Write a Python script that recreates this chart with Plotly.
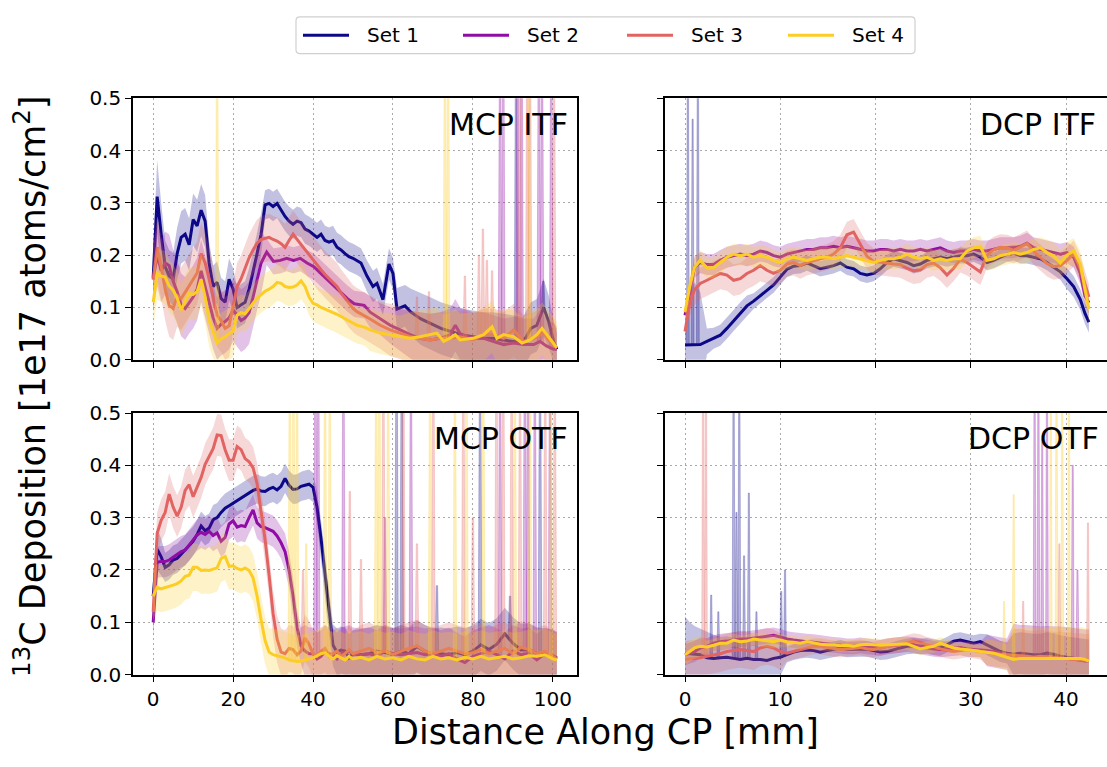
import numpy as np
import plotly.graph_objects as go

W, H = 1107, 767

SET_NAMES = ["Set 1", "Set 2", "Set 3", "Set 4"]
SET_COLORS = ["#0d0887", "#8f0da4", "#e16462", "#fcce25"]

# ---------------- MCP ITF ----------------
mcp_itf_x1 = list(range(0, 53)) + [53.5, 55, 56, 57.5, 59, 60, 61, 63, 64.5, 67, 69.5, 72, 74.5, 77, 80,
                                   82.5, 85, 87.5, 90, 92.5, 94.5, 96, 97.7, 99, 100.2, 101]
mcp_itf_y1 = [0.157, 0.312, 0.24, 0.178, 0.16, 0.154, 0.203, 0.234, 0.24, 0.22,
              0.268, 0.256, 0.286, 0.265, 0.185, 0.14, 0.148, 0.117, 0.11, 0.154,
              0.135, 0.10, 0.105, 0.11, 0.135, 0.166, 0.203, 0.24, 0.296, 0.299,
              0.293, 0.299, 0.286, 0.274, 0.265, 0.259, 0.265, 0.262, 0.25, 0.246,
              0.24, 0.234, 0.24, 0.228, 0.225, 0.228, 0.215, 0.21, 0.203, 0.197,
              0.194, 0.19, 0.185,
              0.16, 0.14, 0.146, 0.115, 0.183, 0.165, 0.097, 0.103, 0.091, 0.078, 0.069, 0.06, 0.054,
              0.048, 0.044, 0.041, 0.041, 0.038, 0.035, 0.032, 0.06, 0.066, 0.1, 0.072, 0.035, 0.02]
mcp_itf_e1 = ([0.05, 0.07, 0.06, 0.05, 0.05, 0.05, 0.05, 0.05, 0.05, 0.05, 0.05, 0.05, 0.05, 0.05]
              + [0.04] * 14 + [0.028] * 25
              + [0.03, 0.03, 0.03, 0.03, 0.03, 0.03, 0.04, 0.04, 0.045, 0.05, 0.05, 0.05, 0.05, 0.05,
                 0.05, 0.05, 0.05, 0.05, 0.05, 0.05, 0.05, 0.05, 0.055, 0.05, 0.04, 0.03])

mcp_itf_x2 = list(range(0, 28)) + [28.4, 30.1, 31.8, 33.4, 35.1, 36.8, 38.5, 40.2, 41.8, 43.5, 45.2, 46.9,
                                   48.6, 50.3, 52.8, 54.3, 56.8, 59.3, 61.8, 64.3, 66.8, 69.3, 71.8, 74.3,
                                   75.6, 76.8, 80, 82.7, 85.2, 87.7, 90.2, 92.7, 95.2, 96.8, 98.5, 100.2, 101]
mcp_itf_y2 = [0.155, 0.2, 0.17, 0.185, 0.18, 0.15, 0.13, 0.105, 0.098, 0.11,
              0.12, 0.135, 0.17, 0.14, 0.11, 0.08, 0.06, 0.068, 0.073, 0.08,
              0.095, 0.085, 0.075, 0.08, 0.09, 0.12, 0.155, 0.185,
              0.206, 0.188, 0.19, 0.194, 0.19, 0.194, 0.185, 0.178, 0.166, 0.154, 0.141, 0.129,
              0.117, 0.107, 0.104, 0.091, 0.078, 0.066, 0.057, 0.048, 0.041, 0.038, 0.041, 0.048,
              0.066, 0.05, 0.041, 0.041, 0.035, 0.029, 0.032, 0.029, 0.029, 0.035, 0.026, 0.02, 0.02]
mcp_itf_e2 = ([0.06] * 28 + [0.025] * 15
              + [0.03, 0.03, 0.035, 0.04, 0.045, 0.05, 0.05, 0.05, 0.05, 0.05, 0.05, 0.05, 0.05, 0.05,
                 0.05, 0.05, 0.05, 0.05, 0.06, 0.05, 0.05, 0.04])

mcp_itf_x3 = list(range(0, 54)) + [54.3, 56.8, 59.3, 61.8, 64.3, 66.8, 69.3, 71.8, 74.3, 76.8, 80, 82.7,
                                   85.2, 87.7, 90.2, 92.7, 95.2, 97.7, 99.3, 101]
mcp_itf_y3 = [0.153, 0.215, 0.178, 0.135, 0.104, 0.098, 0.123, 0.117, 0.129, 0.141,
              0.154, 0.166, 0.203, 0.185, 0.154, 0.117, 0.085, 0.075, 0.06, 0.065,
              0.1, 0.14, 0.155, 0.175, 0.195, 0.21, 0.223, 0.23, 0.232, 0.234,
              0.23, 0.227, 0.222, 0.215, 0.228, 0.24, 0.23, 0.22, 0.21, 0.2,
              0.191, 0.18, 0.172, 0.163, 0.155, 0.148, 0.14, 0.128, 0.118, 0.106,
              0.098, 0.092, 0.088, 0.083,
              0.078, 0.066, 0.057, 0.051, 0.044, 0.041, 0.038, 0.041, 0.041, 0.044, 0.038, 0.048,
              0.048, 0.041, 0.057, 0.035, 0.041, 0.051, 0.035, 0.023]
mcp_itf_e3 = ([0.06] * 20 + [0.045] * 34
              + [0.045, 0.045, 0.05, 0.05, 0.05, 0.05, 0.05, 0.05, 0.05, 0.05, 0.05, 0.05, 0.05, 0.05,
                 0.05, 0.05, 0.05, 0.05, 0.05, 0.04])

mcp_itf_x4 = list(range(0, 54)) + [54.3, 56.8, 59.3, 61.8, 64.3, 66.8, 69.3, 71, 72.7, 74.3, 75.6, 76.8, 80,
                                   82.7, 84.8, 86, 87.7, 90.2, 92.3, 94.3, 96, 97.3, 98.5, 99.8, 101]
mcp_itf_y4 = [0.11, 0.165, 0.16, 0.158, 0.141, 0.133, 0.118, 0.095, 0.112, 0.127,
              0.125, 0.13, 0.154, 0.12, 0.075, 0.052, 0.032, 0.04, 0.044, 0.05,
              0.055, 0.085, 0.09, 0.088, 0.097, 0.108, 0.118, 0.125, 0.131, 0.135,
              0.14, 0.148, 0.146, 0.14, 0.138, 0.139, 0.143, 0.151, 0.14, 0.12,
              0.108, 0.105, 0.1, 0.097, 0.093, 0.09, 0.087, 0.083, 0.078, 0.074,
              0.07, 0.066, 0.064, 0.062,
              0.057, 0.051, 0.048, 0.044, 0.041, 0.044, 0.048, 0.051, 0.035, 0.041, 0.048, 0.038,
              0.041, 0.048, 0.063, 0.041, 0.048, 0.044, 0.032, 0.038, 0.048, 0.06, 0.048, 0.035, 0.023]
mcp_itf_e4 = [0.05] * 21 + [0.035] * 33 + [0.04] * 4 + [0.05] * 21

# narrow outliers in the uncertainty envelope: position, peak value
mcp_itf_spk_x1 = [90.8, 97.6]
mcp_itf_spk_h1 = [0.6, 0.15]
mcp_itf_spk_x2 = [86.8, 87.6, 91.2, 92.2, 96.5, 97.3, 99.6]
mcp_itf_spk_h2 = [0.6, 0.6, 0.6, 0.6, 0.6, 0.6, 0.6]
mcp_itf_spk_x3 = [66.0, 69.0, 78.0, 81.5, 82.5, 83.5, 84.8, 91.8, 93.6, 94.3, 100.3]
mcp_itf_spk_h3 = [0.12, 0.13, 0.16, 0.2, 0.25, 0.19, 0.17, 0.6, 0.6, 0.6, 0.6]
mcp_itf_spk_x4 = [16.0, 73.0, 73.8, 94.0]
mcp_itf_spk_h4 = [0.6, 0.6, 0.6, 0.6]

# ---------------- MCP OTF ----------------
mcp_otf_x = list(range(0, 51)) + list(range(52, 101, 2)) + [101]
mcp_otf_y1 = [0.15, 0.24, 0.225, 0.205, 0.21, 0.219, 0.222, 0.23, 0.238, 0.245,
              0.255, 0.268, 0.284, 0.275, 0.28, 0.296, 0.3, 0.31, 0.318, 0.323,
              0.328, 0.332, 0.337, 0.342, 0.348, 0.352, 0.355, 0.351, 0.35, 0.355,
              0.358, 0.353, 0.36, 0.375, 0.362, 0.354, 0.355, 0.36, 0.362, 0.364,
              0.358, 0.32, 0.26, 0.19, 0.115, 0.056, 0.043, 0.047, 0.045, 0.032,
              0.04,
              0.038, 0.04, 0.045, 0.042, 0.038, 0.045, 0.04, 0.054, 0.045, 0.038, 0.04, 0.038, 0.042,
              0.038, 0.045, 0.057, 0.048, 0.058, 0.078, 0.06, 0.047, 0.048, 0.04, 0.038, 0.036, 0.032]
mcp_otf_e1 = [0.04, 0.04, 0.035] + [0.028] * 38 + [0.03, 0.035, 0.04, 0.04, 0.04] + [0.045] * 5 + [0.05] * 26

mcp_otf_y2 = [0.1, 0.215, 0.216, 0.216, 0.219, 0.224, 0.229, 0.235, 0.238, 0.248,
              0.258, 0.267, 0.272, 0.268, 0.274, 0.266, 0.271, 0.255, 0.262, 0.288,
              0.294, 0.282, 0.285, 0.283, 0.3, 0.315, 0.29, 0.283, 0.281, 0.278,
              0.274, 0.265, 0.252, 0.235, 0.2, 0.15, 0.09, 0.055, 0.045, 0.04,
              0.04, 0.03, 0.035, 0.045, 0.04, 0.038, 0.03, 0.04, 0.042, 0.045,
              0.04,
              0.038, 0.04, 0.035, 0.045, 0.04, 0.038, 0.04, 0.042, 0.038, 0.04, 0.035, 0.04, 0.03,
              0.023, 0.035, 0.04, 0.045, 0.038, 0.03, 0.045, 0.038, 0.04, 0.028, 0.04, 0.035, 0.03]
mcp_otf_e2 = [0.03] * 33 + [0.035] * 5 + [0.05] * 39

mcp_otf_y3 = [0.12, 0.27, 0.295, 0.31, 0.345, 0.32, 0.303, 0.32, 0.352, 0.363,
              0.34, 0.36, 0.377, 0.402, 0.418, 0.432, 0.458, 0.457, 0.43, 0.41,
              0.41, 0.436, 0.43, 0.413, 0.407, 0.395, 0.365, 0.315, 0.258, 0.19,
              0.117, 0.068, 0.043, 0.04, 0.05, 0.048, 0.038, 0.045, 0.07, 0.058,
              0.04, 0.035, 0.045, 0.05, 0.035, 0.04, 0.045, 0.035, 0.04, 0.048,
              0.04,
              0.045, 0.05, 0.042, 0.045, 0.038, 0.045, 0.05, 0.055, 0.045, 0.04, 0.045, 0.05, 0.045,
              0.04, 0.042, 0.048, 0.04, 0.045, 0.05, 0.04, 0.052, 0.048, 0.04, 0.045, 0.035, 0.03]
mcp_otf_e3 = [0.04] * 30 + [0.045] * 21 + [0.05] * 26

mcp_otf_y4 = [0.15, 0.167, 0.164, 0.166, 0.168, 0.171, 0.174, 0.179, 0.188, 0.19,
              0.205, 0.205, 0.199, 0.2, 0.199, 0.201, 0.204, 0.222, 0.226, 0.207,
              0.208, 0.203, 0.2, 0.204, 0.199, 0.185, 0.15, 0.105, 0.065, 0.043,
              0.038, 0.036, 0.034, 0.032, 0.028, 0.026, 0.025, 0.026, 0.028, 0.03,
              0.032, 0.036, 0.04, 0.042, 0.035, 0.03, 0.036, 0.032, 0.028, 0.035,
              0.03,
              0.033, 0.028, 0.035, 0.03, 0.032, 0.028, 0.035, 0.03, 0.028, 0.035, 0.03, 0.032, 0.028,
              0.033, 0.03, 0.035, 0.03, 0.033, 0.035, 0.03, 0.032, 0.036, 0.035, 0.038, 0.03, 0.028]
mcp_otf_e4 = [0.045] * 30 + [0.05] * 47

mcp_otf_spk_x1 = [60.9, 62.2, 71.0, 81.8, 89.3, 96.8]
mcp_otf_spk_h1 = [0.6, 0.6, 0.17, 0.6, 0.15, 0.6]
mcp_otf_spk_x2 = [40.6, 41.3, 47.6, 58.0, 64.5, 86.8, 93.0, 93.8, 95.5, 99.3]
mcp_otf_spk_h2 = [0.6, 0.6, 0.6, 0.3, 0.6, 0.6, 0.6, 0.6, 0.6, 0.6]
mcp_otf_spk_x3 = [37.5, 49.2, 52.0, 57.6, 62.6, 66.0, 70.1, 77.6, 80.0, 85.9, 87.6, 89.7, 91.8, 98.1, 100.5]
mcp_otf_spk_h3 = [0.2, 0.35, 0.22, 0.6, 0.6, 0.25, 0.6, 0.6, 0.3, 0.6, 0.6, 0.6, 0.6, 0.6, 0.6]
mcp_otf_spk_x4 = [34.2, 35.1, 36.0, 38.3, 43.0, 44.2, 55.8, 56.6, 58.8, 69.3, 75.5, 78.4, 82.6, 90.5, 94.3, 99.5]
mcp_otf_spk_h4 = [0.6, 0.6, 0.6, 0.25, 0.6, 0.6, 0.6, 0.6, 0.6, 0.6, 0.6, 0.6, 0.6, 0.6, 0.6, 0.6]

# ---------------- DCP (shared sampling) ----------------
dcp_x = [0, 0.5, 1.0, 1.6, 2.3, 3.0, 3.7, 4.4, 5.1, 5.8, 6.5, 7.2, 7.9, 8.6, 9.3, 10.0, 10.7, 11.4, 12.1,
         12.8, 13.5, 14.2, 14.9, 15.6, 16.3, 17.0, 17.7, 18.4, 19.1, 19.8, 20.5, 21.2, 21.9, 22.6, 23.3,
         24.0, 24.7, 25.4, 26.1, 26.8, 27.5, 28.2, 28.9, 29.6, 30.3, 31.0, 31.7, 32.4, 33.1, 33.8, 34.5,
         35.2, 35.9, 36.6, 37.3, 38.0, 38.7, 39.4, 40.1, 40.8, 41.5, 42.0, 42.4]

dcp_itf_y1 = [0.028, 0.028, 0.028, 0.029, 0.035, 0.041, 0.047, 0.06, 0.075, 0.09,
              0.103, 0.112, 0.122, 0.133, 0.143, 0.158, 0.173, 0.179, 0.18, 0.185,
              0.18, 0.174, 0.177, 0.18, 0.185, 0.177, 0.174, 0.165, 0.162, 0.165,
              0.174, 0.186, 0.193, 0.19, 0.186, 0.18, 0.183, 0.19, 0.193, 0.196,
              0.193, 0.196, 0.199, 0.199, 0.202, 0.196, 0.186, 0.19, 0.196, 0.202,
              0.205, 0.199, 0.199, 0.196, 0.193, 0.186, 0.177, 0.168, 0.155, 0.14,
              0.115, 0.088, 0.072]
dcp_itf_e1 = [0.03, 0.1, 0.12, 0.1, 0.025] + [0.02] * 6 + [0.015] * 47 + [0.02] * 5

dcp_itf_y2 = [0.085, 0.134, 0.177, 0.186, 0.182, 0.182, 0.19, 0.196, 0.199, 0.202,
              0.199, 0.202, 0.208, 0.205, 0.199, 0.196, 0.202, 0.205, 0.208, 0.211,
              0.211, 0.214, 0.214, 0.217, 0.214, 0.217, 0.214, 0.211, 0.208, 0.208,
              0.211, 0.211, 0.208, 0.211, 0.208, 0.208, 0.211, 0.208, 0.211, 0.214,
              0.208, 0.205, 0.208, 0.208, 0.211, 0.208, 0.208, 0.211, 0.214, 0.214,
              0.214, 0.217, 0.223, 0.214, 0.211, 0.208, 0.205, 0.202, 0.205, 0.196,
              0.165, 0.122, 0.109]
dcp_itf_e2 = [0.02] * 63

dcp_itf_y3 = [0.054, 0.109, 0.134, 0.146, 0.152, 0.158, 0.165, 0.162, 0.152, 0.155,
              0.165, 0.171, 0.18, 0.171, 0.165, 0.171, 0.183, 0.186, 0.18, 0.186,
              0.19, 0.193, 0.196, 0.202, 0.214, 0.239, 0.244, 0.22, 0.198, 0.188,
              0.186, 0.185, 0.183, 0.182, 0.175, 0.17, 0.172, 0.182, 0.185, 0.176,
              0.162, 0.175, 0.192, 0.186, 0.177, 0.168, 0.2, 0.21, 0.215, 0.214,
              0.209, 0.215, 0.222, 0.207, 0.195, 0.184, 0.178, 0.18, 0.19, 0.203,
              0.175, 0.145, 0.12]
dcp_itf_e3 = [0.02, 0.025] + [0.03] * 11 + [0.025] * 50

dcp_itf_y4 = [0.091, 0.14, 0.177, 0.19, 0.176, 0.176, 0.186, 0.196, 0.202, 0.199,
              0.202, 0.196, 0.199, 0.196, 0.19, 0.186, 0.193, 0.196, 0.193, 0.19,
              0.193, 0.196, 0.196, 0.193, 0.196, 0.199, 0.196, 0.193, 0.19, 0.186,
              0.19, 0.193, 0.193, 0.196, 0.202, 0.196, 0.193, 0.196, 0.19, 0.193,
              0.19, 0.193, 0.193, 0.208, 0.214, 0.217, 0.19, 0.193, 0.199, 0.202,
              0.205, 0.202, 0.205, 0.211, 0.214, 0.205, 0.199, 0.185, 0.2, 0.208,
              0.183, 0.134, 0.097]
dcp_itf_e4 = [0.02] * 55 + [0.025] * 8

dcp_itf_spk_x1 = [0.3, 0.8, 1.35]
dcp_itf_spk_h1 = [0.6, 0.46, 0.6]

dcp_otf_y1 = [0.041, 0.04, 0.038, 0.038, 0.032, 0.031, 0.032, 0.033, 0.031, 0.029,
              0.031, 0.029, 0.029, 0.027, 0.031, 0.033, 0.038, 0.043, 0.046, 0.047,
              0.046, 0.043, 0.046, 0.048, 0.051, 0.048, 0.048, 0.049, 0.049, 0.046,
              0.043, 0.044, 0.048, 0.051, 0.054, 0.055, 0.054, 0.055, 0.052, 0.051,
              0.057, 0.064, 0.066, 0.063, 0.06, 0.063, 0.057, 0.051, 0.044, 0.041,
              0.039, 0.041, 0.039, 0.038, 0.038, 0.041, 0.039, 0.035, 0.033, 0.031,
              0.029, 0.028, 0.027]
dcp_otf_e1 = ([0.07, 0.06, 0.055, 0.05, 0.05, 0.045, 0.04, 0.04, 0.04, 0.04, 0.04, 0.04, 0.04, 0.035, 0.035, 0.035]
              + [0.015] * 30 + [0.02] * 4 + [0.04] * 13)

dcp_otf_y2 = [0.038, 0.041, 0.044, 0.051, 0.054, 0.06, 0.063, 0.064, 0.066, 0.068,
              0.068, 0.07, 0.072, 0.074, 0.075, 0.072, 0.068, 0.066, 0.064, 0.063,
              0.062, 0.06, 0.058, 0.057, 0.056, 0.054, 0.054, 0.056, 0.054, 0.052,
              0.051, 0.054, 0.056, 0.057, 0.058, 0.057, 0.054, 0.051, 0.049, 0.048,
              0.049, 0.051, 0.052, 0.049, 0.048, 0.048, 0.046, 0.044, 0.041, 0.039,
              0.037, 0.035, 0.035, 0.033, 0.032, 0.033, 0.033, 0.032, 0.031, 0.029,
              0.027, 0.026, 0.026]
dcp_otf_e2 = [0.02] * 4 + [0.015] * 42 + [0.03] * 4 + [0.06] * 13

dcp_otf_y3 = [0.029, 0.03, 0.031, 0.032, 0.035, 0.037, 0.04, 0.044, 0.046, 0.048,
              0.046, 0.044, 0.051, 0.054, 0.051, 0.044, 0.041, 0.044, 0.048, 0.051,
              0.054, 0.054, 0.052, 0.049, 0.048, 0.049, 0.051, 0.052, 0.049, 0.048,
              0.051, 0.054, 0.056, 0.057, 0.06, 0.064, 0.062, 0.057, 0.054, 0.049,
              0.046, 0.044, 0.046, 0.048, 0.046, 0.044, 0.043, 0.041, 0.039, 0.038,
              0.037, 0.037, 0.035, 0.033, 0.035, 0.033, 0.032, 0.032, 0.031, 0.029,
              0.028, 0.027, 0.027]
dcp_otf_e3 = [0.035] * 16 + [0.015] * 30 + [0.025] * 4 + [0.05] * 13

dcp_otf_y4 = [0.038, 0.044, 0.051, 0.054, 0.053, 0.056, 0.06, 0.06, 0.066, 0.063,
              0.064, 0.068, 0.066, 0.064, 0.063, 0.066, 0.063, 0.062, 0.06, 0.063,
              0.06, 0.058, 0.057, 0.057, 0.055, 0.056, 0.054, 0.057, 0.058, 0.057,
              0.056, 0.057, 0.058, 0.058, 0.059, 0.054, 0.049, 0.052, 0.054, 0.06,
              0.056, 0.051, 0.049, 0.048, 0.046, 0.044, 0.043, 0.041, 0.037, 0.033,
              0.029, 0.031, 0.031, 0.032, 0.031, 0.031, 0.031, 0.031, 0.031, 0.031,
              0.031, 0.029, 0.026]
dcp_otf_e4 = [0.02] * 4 + [0.012] * 42 + [0.025] * 4 + [0.06] * 13

dcp_otf_spk_x1 = [2.75, 3.5, 5.1, 5.4, 5.7, 6.2, 6.7, 7.5, 10.1, 10.5]
dcp_otf_spk_h1 = [0.152, 0.12, 0.6, 0.31, 0.6, 0.227, 0.347, 0.12, 0.159, 0.2]
dcp_otf_spk_x2 = [36.7, 37.1, 37.5, 38.0, 40.7, 41.2]
dcp_otf_spk_h2 = [0.6, 0.6, 0.45, 0.6, 0.4, 0.2]
dcp_otf_spk_x3 = [1.9, 2.2, 35.5, 39.3, 42.3]
dcp_otf_spk_h3 = [0.6, 0.6, 0.14, 0.25, 0.29]
dcp_otf_spk_x4 = [33.5, 34.5, 38.4, 39.0, 39.6, 40.3]
dcp_otf_spk_h4 = [0.14, 0.344, 0.6, 0.6, 0.6, 0.6]

Y_TICKS = [0.0, 0.1, 0.2, 0.3, 0.4, 0.5]
MCP_TICKS = [0, 20, 40, 60, 80, 100]
DCP_TICKS = [0, 10, 20, 30, 40]

FONT = "DejaVu Sans"


def rgba(hex_color, a):
    h = hex_color.lstrip("#")
    return "rgba(%d,%d,%d,%s)" % (int(h[0:2], 16), int(h[2:4], 16), int(h[4:6], 16), a)


fig = go.Figure()


def add_series(xa, ya, x, y, e, color, spk_x=(), spk_h=(), spike_w=0.3):
    x = np.asarray(x, float)
    y = np.asarray(y, float)
    e = np.asarray(e, float)
    assert len(x) == len(y) == len(e), (len(x), len(y), len(e))
    hi, lo = y + e, y - e
    fig.add_trace(go.Scatter(
        x=np.concatenate([x, x[::-1]]), y=np.concatenate([hi, lo[::-1]]),
        mode="lines", fill="toself", fillcolor=rgba(color, 0.25),
        line=dict(width=0), hoverinfo="skip", showlegend=False, xaxis=xa, yaxis=ya))
    if len(spk_x):
        sx, sy = [], []
        for xs, hgt in zip(spk_x, spk_h):
            base = float(np.interp(xs, x, y))
            sx += [xs - spike_w, xs - 0.4 * spike_w, xs + 0.4 * spike_w, xs + spike_w, None]
            sy += [base, hgt, hgt, base, None]
        fig.add_trace(go.Scatter(
            x=sx, y=sy, mode="lines", fill="toself", fillcolor=rgba(color, 0.3),
            line=dict(width=0.8, color=rgba(color, 0.3)), hoverinfo="skip",
            showlegend=False, xaxis=xa, yaxis=ya))
    fig.add_trace(go.Scatter(
        x=x, y=y, mode="lines", line=dict(color=color, width=3),
        hoverinfo="skip", showlegend=False, xaxis=xa, yaxis=ya))


panels = [
    ("x", "y", [(mcp_itf_x1, mcp_itf_y1, mcp_itf_e1, mcp_itf_spk_x1, mcp_itf_spk_h1),
                (mcp_itf_x2, mcp_itf_y2, mcp_itf_e2, mcp_itf_spk_x2, mcp_itf_spk_h2),
                (mcp_itf_x3, mcp_itf_y3, mcp_itf_e3, mcp_itf_spk_x3, mcp_itf_spk_h3),
                (mcp_itf_x4, mcp_itf_y4, mcp_itf_e4, mcp_itf_spk_x4, mcp_itf_spk_h4)], 0.45),
    ("x2", "y2", [(dcp_x, dcp_itf_y1, dcp_itf_e1, dcp_itf_spk_x1, dcp_itf_spk_h1),
                  (dcp_x, dcp_itf_y2, dcp_itf_e2, [], []),
                  (dcp_x, dcp_itf_y3, dcp_itf_e3, [], []),
                  (dcp_x, dcp_itf_y4, dcp_itf_e4, [], [])], 0.15),
    ("x3", "y3", [(mcp_otf_x, mcp_otf_y1, mcp_otf_e1, mcp_otf_spk_x1, mcp_otf_spk_h1),
                  (mcp_otf_x, mcp_otf_y2, mcp_otf_e2, mcp_otf_spk_x2, mcp_otf_spk_h2),
                  (mcp_otf_x, mcp_otf_y3, mcp_otf_e3, mcp_otf_spk_x3, mcp_otf_spk_h3),
                  (mcp_otf_x, mcp_otf_y4, mcp_otf_e4, mcp_otf_spk_x4, mcp_otf_spk_h4)], 0.45),
    ("x4", "y4", [(dcp_x, dcp_otf_y1, dcp_otf_e1, dcp_otf_spk_x1, dcp_otf_spk_h1),
                  (dcp_x, dcp_otf_y2, dcp_otf_e2, dcp_otf_spk_x2, dcp_otf_spk_h2),
                  (dcp_x, dcp_otf_y3, dcp_otf_e3, dcp_otf_spk_x3, dcp_otf_spk_h3),
                  (dcp_x, dcp_otf_y4, dcp_otf_e4, dcp_otf_spk_x4, dcp_otf_spk_h4)], 0.15),
]

for xa, ya, series, sw in panels:
    for (x, y, e, sxs, shs), color in zip(series, SET_COLORS):
        add_series(xa, ya, x, y, e, color, sxs, shs, sw)

# ---------------- axes ----------------
left_dom = [133 / W, 577 / W]
right_dom = [665 / W, 1.0]
top_dom = [1 - 359 / H, 1 - 89 / H]
bot_dom = [1 - 684 / H, 1 - 414 / H]

common = dict(showline=True, linecolor="black", linewidth=1.6,
              ticks="outside", ticklen=6, tickwidth=1.4, tickcolor="black",
              showgrid=True, gridcolor="#aaaaaa", griddash="1.5px,3.5px", gridwidth=1.3,
              zeroline=False, tickfont=dict(family=FONT, size=20, color="black"))

mcp_range = [-5.05, 106.05]
dcp_range = [-2.1, 44.3]

fig.update_layout(
    xaxis=dict(common, domain=left_dom, anchor="y", range=mcp_range, tickvals=MCP_TICKS,
               showticklabels=False, mirror=True),
    yaxis=dict(common, domain=top_dom, anchor="x", range=[0, 0.5], tickvals=Y_TICKS,
               tickformat=".1f", mirror=True),
    xaxis2=dict(common, domain=right_dom, anchor="y2", range=dcp_range, tickvals=DCP_TICKS,
                showticklabels=False, mirror=True),
    yaxis2=dict(common, domain=top_dom, anchor="x2", range=[0, 0.5], tickvals=Y_TICKS,
                showticklabels=False, mirror=False),
    xaxis3=dict(common, domain=left_dom, anchor="y3", range=mcp_range, tickvals=MCP_TICKS,
                mirror=True),
    yaxis3=dict(common, domain=bot_dom, anchor="x3", range=[0, 0.5], tickvals=Y_TICKS,
                tickformat=".1f", mirror=True),
    xaxis4=dict(common, domain=right_dom, anchor="y4", range=dcp_range, tickvals=DCP_TICKS,
                mirror=True),
    yaxis4=dict(common, domain=bot_dom, anchor="x4", range=[0, 0.5], tickvals=Y_TICKS,
                showticklabels=False, mirror=False),
)

# ---------------- text ----------------
annotations = []
panel_labels = [("MCP ITF", 570, 116), ("DCP ITF", 1098, 116),
                ("MCP OTF", 570, 440), ("DCP OTF", 1101, 440)]
for txt, px, py in panel_labels:
    annotations.append(dict(text=txt, x=px / W, y=1 - py / H, xref="paper", yref="paper",
                            xanchor="right", yanchor="middle", showarrow=False,
                            font=dict(family=FONT, size=30, color="black")))

annotations.append(dict(text="<sup>13</sup>C Deposition [1e17 atoms/cm<sup>2</sup>]",
                        x=30 / W, y=1 - 387 / H, xref="paper", yref="paper",
                        xanchor="center", yanchor="middle", textangle=-90, showarrow=False,
                        font=dict(family=FONT, size=35, color="black")))
annotations.append(dict(text="Distance Along CP [mm]", x=605 / W, y=1 - 743 / H,
                        xref="paper", yref="paper", xanchor="center", yanchor="middle",
                        showarrow=False, font=dict(family=FONT, size=35, color="black")))

# legend drawn as a framed row of line samples and labels
shapes = []
lx0, lx1, ly0, ly1, r = 296, 915, 5, 43, 4


def pxp(px, py):
    return "%.5f,%.5f" % (px / W, 1 - py / H)


path = ("M" + pxp(lx0 + r, ly0) + " L" + pxp(lx1 - r, ly0) + " Q" + pxp(lx1, ly0) + " " + pxp(lx1, ly0 + r)
        + " L" + pxp(lx1, ly1 - r) + " Q" + pxp(lx1, ly1) + " " + pxp(lx1 - r, ly1)
        + " L" + pxp(lx0 + r, ly1) + " Q" + pxp(lx0, ly1) + " " + pxp(lx0, ly1 - r)
        + " L" + pxp(lx0, ly0 + r) + " Q" + pxp(lx0, ly0) + " " + pxp(lx0 + r, ly0) + " Z")
shapes.append(dict(type="path", path=path, xref="paper", yref="paper",
                   line=dict(color="#d0d0d0", width=1.2), fillcolor="rgba(255,255,255,0.8)"))

legend_line_x = [303, 463, 627, 788]
for name, color, lx in zip(SET_NAMES, SET_COLORS, legend_line_x):
    shapes.append(dict(type="line", xref="paper", yref="paper",
                       x0=lx / W, x1=(lx + 46) / W, y0=1 - 24 / H, y1=1 - 24 / H,
                       line=dict(color=color, width=3)))
    annotations.append(dict(text=name, x=(lx + 62) / W, y=1 - 24 / H, xref="paper", yref="paper",
                            xanchor="left", yanchor="middle", showarrow=False,
                            font=dict(family=FONT, size=20, color="black")))

fig.update_layout(
    width=W, height=H, autosize=False,
    margin=dict(l=0, r=0, t=0, b=0),
    paper_bgcolor="white", plot_bgcolor="white",
    showlegend=False, hovermode=False,
    annotations=annotations, shapes=shapes,
)

fig.write_html("out.html")
